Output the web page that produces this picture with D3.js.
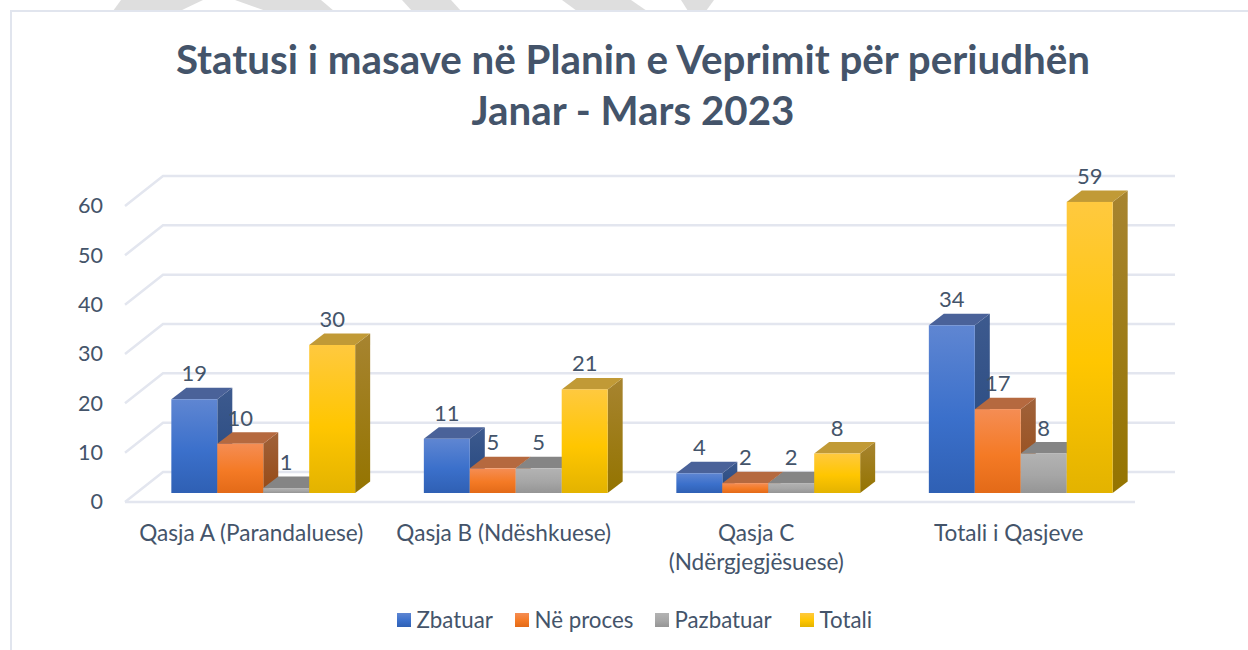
<!DOCTYPE html>
<html>
<head>
<meta charset="utf-8">
<script src="https://cdn.jsdelivr.net/npm/d3@7"></script>
<style>
  html, body { margin: 0; padding: 0; background: #fff; overflow: hidden; }
  svg { display: block; }
  text { font-family: Lato, sans-serif; fill: #44546a; }
  .tick text { font-size: 21.5px; }
  .label { font-size: 22.6px; text-anchor: middle; }
  .value { font-size: 22px; text-anchor: middle; }
  .legend-item text { font-size: 22.3px; }
  .title { font-size: 40.3px; font-weight: 700; text-anchor: middle; }
</style>
</head>
<body>
<div id="chart"></div>
<script>
const width = 1248;
const height = 650;

/* ----------------------- data ----------------------- */
const categories = ["Qasja A (Parandaluese)", "Qasja B (Ndëshkuese)", "Qasja C (Ndërgjegjësuese)", "Totali i Qasjeve"];
const series = ["Zbatuar", "Në proces", "Pazbatuar", "Totali"];
const zbatuar = [19, 11, 4, 34];
const neProces = [10, 5, 2, 17];
const pazbatuar = [1, 5, 2, 8];
const totali = [30, 21, 8, 59];
const yTicks = [0, 10, 20, 30, 40, 50, 60];
const titleLines = ["Statusi i masave në Planin e Veprimit për periudhën", "Janar - Mars 2023"];

// colours per series: gradient top / middle / bottom, then side top / bottom and roof
const frontTop = ["#5f86d2", "#f58d54", "#b3b3b3", "#ffc93f"];
const frontMid = ["#3b70cb", "#f47a25", "#a6a6a6", "#ffc600"];
const frontEnd = ["#2f60b4", "#e36a18", "#959595", "#e3b300"];
const sideTop = ["#3d5a8e", "#a0623a", "#808080", "#a78430"];
const sideEnd = ["#24477f", "#964a16", "#7c7c7c", "#947400"];
const roof = ["#4a6299", "#b5693f", "#858585", "#c19a36"];

// background stamp showing through above the frame
const stamp = [
  [[113, 11], [121, 0], [203, 0], [180, 11]],
  [[235, 0], [321, 0], [334, 11], [266, 11]],
  [[402, 0], [451, 0], [461, 11], [412, 11]],
  [[562, 0], [631, 0], [647, 11], [577, 11]],
  [[681, 0], [714, 0], [706, 11], [688, 11]]
];

const svg = d3.select("#chart")
  .append("svg")
    .attr("width", width)
    .attr("height", height);

const defs = svg.append("defs");
series.forEach(function(s, i) {
  let g = defs.append("linearGradient")
    .attr("id", "front" + i)
    .attr("x1", 0).attr("x2", 0).attr("y1", 0).attr("y2", 1);
  g.append("stop").attr("offset", "0%").attr("stop-color", frontTop[i]);
  g.append("stop").attr("offset", "55%").attr("stop-color", frontMid[i]);
  g.append("stop").attr("offset", "100%").attr("stop-color", frontEnd[i]);
  let h = defs.append("linearGradient")
    .attr("id", "side" + i)
    .attr("x1", 0).attr("x2", 0).attr("y1", 0).attr("y2", 1);
  h.append("stop").attr("offset", "0%").attr("stop-color", sideTop[i]);
  h.append("stop").attr("offset", "100%").attr("stop-color", sideEnd[i]);
});

/* ----------------------- frame ----------------------- */
svg.selectAll(".stamp")
  .data(stamp)
  .join("path")
    .attr("class", "stamp")
    .attr("d", d => "M" + d.join("L") + "Z")
    .attr("fill", "#dedede");

svg.append("rect")
  .attr("x", 11)
  .attr("y", 11)
  .attr("width", width + 20)
  .attr("height", height + 20)
  .attr("fill", "#fff")
  .attr("stroke", "#e1e5ee")
  .attr("stroke-width", 2);

/* ----------------------- scales ----------------------- */
const floorY = 502;
const depthX = 38;   // how far the floor runs back
const depthY = 30;

const x = d3.scaleBand()
  .domain(categories)
  .range([125, 1135])
  .paddingInner(0.272)
  .paddingOuter(0.136);

const xInner = d3.scaleBand()
  .domain(series)
  .range([0, x.bandwidth()]);

const y = d3.scaleLinear()
  .domain([0, 60])
  .range([floorY, floorY - 296]);

// bars stand part way back on the floor
const barShiftX = 12;
const barShiftY = 9;
const barDepthX = 15;
const barDepthY = 11.5;

/* ----------------------- grid ----------------------- */
const grid = svg.append("g")
  .attr("fill", "none")
  .attr("stroke", "#e3e6ef")
  .attr("stroke-width", 2.5);

grid.selectAll(".grid")
  .data(yTicks)
  .join("path")
    .attr("class", "grid")
    .attr("d", d => `M125,${y(d)}L${125 + depthX},${y(d) - depthY}H1175`);

grid.append("path")
  .attr("d", `M125,${y(0)}H1135`);

/* ----------------------- axes ----------------------- */
const yAxis = svg.append("g")
  .attr("transform", "translate(111,0)")
  .call(d3.axisLeft(y).tickValues(yTicks).tickSize(0).tickPadding(8));
yAxis.select(".domain").remove();

// category names wrap under the floor
function wrapLabel(selection, maxWidth) {
  selection.each(function(d) {
    const text = d3.select(this);
    text.text(null);
    let line = [];
    let tspan = text.append("tspan").attr("x", x(d) + x.bandwidth() / 2).attr("dy", 0);
    d.split(" ").forEach(function(word) {
      line.push(word);
      tspan.text(line.join(" "));
      if (tspan.node().getComputedTextLength() > maxWidth && line.length > 1) {
        line.pop();
        tspan.text(line.join(" "));
        line = [word];
        tspan = text.append("tspan").attr("x", x(d) + x.bandwidth() / 2).attr("dy", 29).text(word);
      }
    });
  });
}

svg.selectAll(".label")
  .data(categories)
  .join("text")
    .attr("class", "label")
    .attr("y", 541)
    .call(wrapLabel, 240);

/* ----------------------- bars ----------------------- */
const values = [zbatuar, neProces, pazbatuar, totali];

const rows = categories.flatMap((c, ci) => series.map((s, si) => ({
  category: c,
  name: s,
  si: si,
  value: values[si][ci]
})));

const bars = svg.selectAll(".bar")
  .data(rows)
  .join("g")
    .attr("class", "bar")
    .attr("transform", d => `translate(${x(d.category) + xInner(d.name) + barShiftX},${-barShiftY})`);

// side
bars.append("path")
  .attr("d", function(d) {
    const w = xInner.bandwidth();
    return `M${w},${y(d.value)}l${barDepthX},${-barDepthY}V${y(0) - barDepthY}l${-barDepthX},${barDepthY}Z`;
  })
  .attr("fill", d => `url(#side${d.si})`);

// roof
bars.append("path")
  .attr("d", function(d) {
    const w = xInner.bandwidth();
    return `M0,${y(d.value)}l${barDepthX},${-barDepthY}h${w}l${-barDepthX},${barDepthY}Z`;
  })
  .attr("fill", d => roof[d.si]);

// front
bars.append("rect")
  .attr("y", d => y(d.value))
  .attr("width", xInner.bandwidth())
  .attr("height", d => y(0) - y(d.value))
  .attr("fill", d => `url(#front${d.si})`);

/* ----------------------- value labels ----------------------- */
svg.selectAll(".value")
  .data(rows)
  .join("text")
    .attr("class", "value")
    .attr("x", d => x(d.category) + xInner(d.name) + xInner.bandwidth() / 2 + barShiftX)
    .attr("y", d => y(d.value) - barShiftY - 18)
    .text(d => d.value);

/* ----------------------- legend ----------------------- */
const legendX = d3.scaleOrdinal()
  .domain(series)
  .range([397, 515, 655, 800]);

const legend = svg.selectAll(".legend-item")
  .data(series)
  .join("g")
    .attr("class", "legend-item")
    .attr("transform", d => `translate(${legendX(d)},613)`);

legend.append("rect")
  .attr("width", 14)
  .attr("height", 14)
  .attr("fill", (d, i) => `url(#front${i})`);

legend.append("text")
  .attr("x", 19.5)
  .attr("y", 14.5)
  .text(d => d);

/* ----------------------- title ----------------------- */
svg.selectAll(".title")
  .data(titleLines)
  .join("text")
    .attr("class", "title")
    .attr("x", 633)
    .attr("y", (d, i) => 74 + i * 51)
    .text(d => d);
</script>
</body>
</html>
